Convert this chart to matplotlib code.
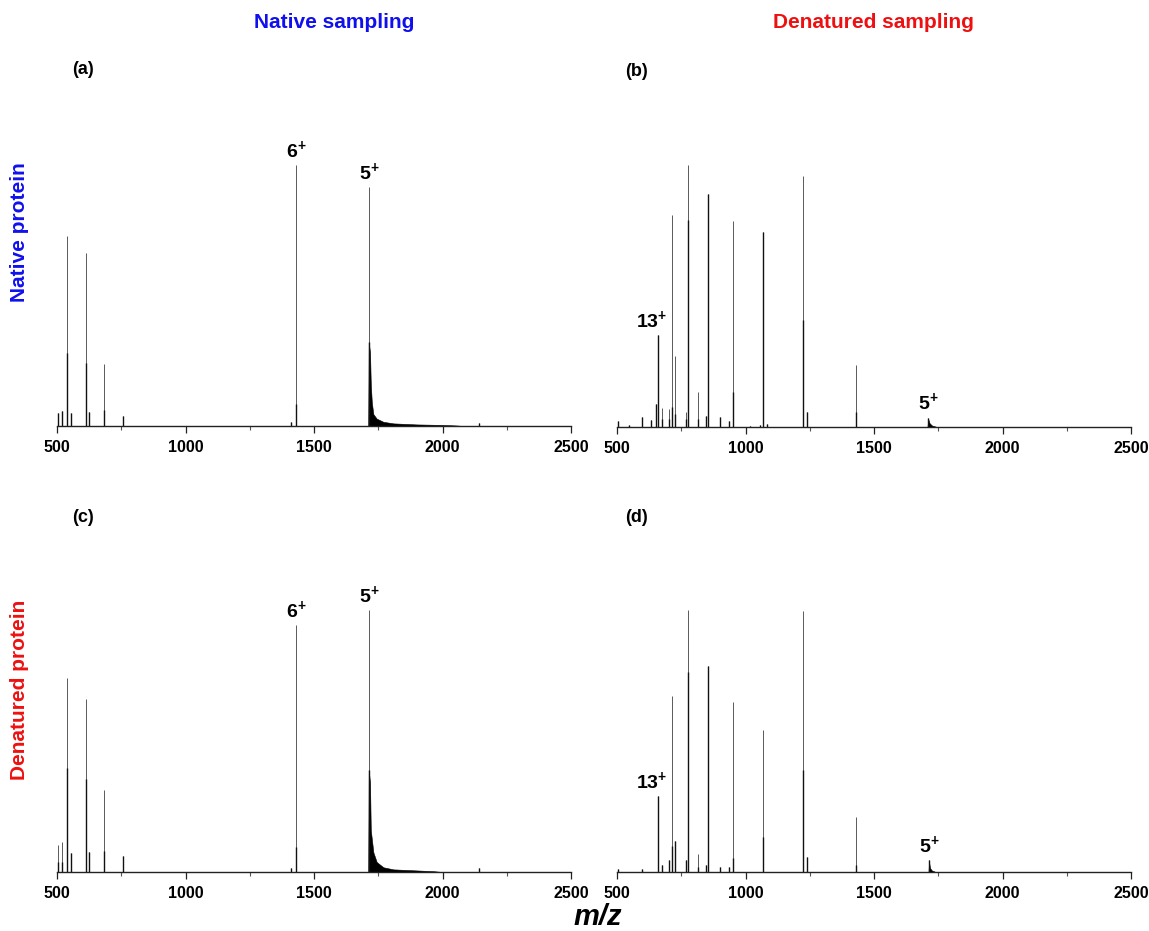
import matplotlib
matplotlib.use("Agg")
import matplotlib.pyplot as plt
from matplotlib.ticker import MultipleLocator

plt.rcParams['font.family'] = ['Liberation Sans', 'DejaVu Sans']
plt.rcParams['mathtext.fontset'] = 'custom'
plt.rcParams['mathtext.bf'] = 'Liberation Sans:bold'
plt.rcParams['mathtext.rm'] = 'Liberation Sans'

# ---- data (m/z, relative intensity %) ----
# "inner" = the dense (dark) lower part of each peak
a_mz    = [504, 519, 538, 553, 612, 624, 683, 757, 1411, 1430, 1714, 2142]
a_int   = [5.0, 5.7, 72.5, 5.0, 66.0, 5.3, 23.7, 3.8, 1.5, 99.6, 91.2, 1.0]
a_inner = [5.0, 5.7, 27.7, 5.0, 23.9, 5.3, 6.0, 3.8, 1.5, 8.4, 32.0, 1.0]
a_tail_mz = [1711, 1713, 1718, 1721, 1725, 1731, 1744, 1770, 1809, 1900, 2003, 2055, 2080]
a_tail_h  = [0, 32, 28, 16, 9.0, 4.5, 2.8, 1.6, 1.0, 0.6, 0.4, 0.2, 0]

b_mz    = [505, 546, 599, 632, 651, 658, 677, 703, 712.5, 724, 769, 776, 814, 845, 855,
           902, 934, 951, 1016, 1058, 1070, 1084, 1225, 1240, 1430, 1710]
b_int   = [2.3, 0.8, 3.8, 2.7, 8.8, 35.1, 7.3, 6.9, 80.8, 27.0, 5.7, 100, 13.2, 4.2, 88.8,
           3.8, 2.3, 78.6, 0.4, 0.8, 74.3, 1.1, 95.7, 5.7, 23.5, 3.6]
b_inner = [2.3, 0.8, 3.8, 2.7, 8.8, 35.1, 3.0, 3.0, 7.6, 5.0, 3.0, 79.0, 3.0, 4.2, 88.8,
           3.8, 2.3, 13.4, 0.4, 0.8, 74.3, 1.1, 40.8, 5.7, 5.7, 3.6]
b_tail_mz = [1708, 1711, 1716, 1725, 1745]
b_tail_h  = [0, 3.0, 1.5, 0.6, 0]

c_mz    = [504, 519, 538, 553, 612, 624, 683, 757, 1411, 1430, 1714, 2142]
c_int   = [10.2, 11.3, 74.0, 7.3, 66.0, 7.6, 31.2, 6.1, 1.5, 94.2, 100, 1.5]
c_inner = [4.0, 4.0, 39.7, 7.3, 35.5, 7.6, 8.0, 6.1, 1.5, 9.5, 38.9, 1.5]
c_tail_mz = [1711, 1713, 1718, 1721, 1731, 1744, 1770, 1809, 1900, 1966, 2000]
c_tail_h  = [0, 38.9, 34, 16, 7.5, 3.8, 1.8, 1.0, 0.6, 0.3, 0]

d_mz    = [505, 599, 658, 677, 703, 714, 724, 769, 778, 814, 845, 856, 902, 934,
           953, 1070, 1225, 1240, 1430, 1714]
d_int   = [1.1, 1.1, 28.9, 2.7, 4.6, 67.1, 11.7, 4.6, 100, 6.8, 2.7, 78.5, 1.9, 1.9,
           64.9, 54.1, 99.5, 5.7, 21.0, 4.7]
d_inner = [1.1, 1.1, 28.9, 2.7, 4.6, 9.8, 11.7, 4.6, 76.3, 2.0, 2.7, 78.5, 1.9, 1.9,
           5.3, 13.4, 38.8, 5.7, 2.5, 4.7]
d_tail_mz = [1712, 1714, 1718, 1725, 1740]
d_tail_h  = [0, 4.0, 1.5, 0.6, 0]

# charge-state labels (text, m/z of labelled peak)
a_labels = [('6', 1430), ('5', 1714)]
b_labels = [('13', 658), ('5', 1710)]
c_labels = [('6', 1430), ('5', 1714)]
d_labels = [('13', 658), ('5', 1714)]

ticks = [500, 1000, 1500, 2000, 2500]

fig = plt.figure(figsize=(11.49, 9.31), dpi=100)
W, H = 1149, 931


def draw_panel(rect, mz, inten, inner, tail_mz, tail_h, labels, letter, letter_xy):
    ax = fig.add_axes(rect)
    ax.vlines(mz, 0, inten, color='#5a5a5a', lw=0.7)
    ax.vlines(mz, 0, inner, color='#111111', lw=1.0)
    ax.fill_between(tail_mz, 0, tail_h, color='black', lw=0.4)
    ax.set_xlim(500, 2500)
    ax.set_ylim(0, 105)
    for s in ['top', 'left', 'right']:
        ax.spines[s].set_visible(False)
    ax.spines['bottom'].set_color('#222222')
    ax.spines['bottom'].set_linewidth(1.0)
    ax.set_yticks([])
    ax.set_xticks(ticks)
    ax.xaxis.set_minor_locator(MultipleLocator(250))
    ax.tick_params(axis='x', which='major', direction='out', length=5, width=0.9,
                   labelsize=11.5, pad=5, color='#222222')
    ax.tick_params(axis='x', which='minor', direction='out', length=3, width=0.8,
                   color='#555555')
    for t in ax.get_xticklabels():
        t.set_fontweight('bold')
    for txt, pos in labels:
        h = inten[mz.index(pos)]
        dx = -4 if txt == '13' else 0
        ax.annotate(r'$\mathbf{%s^{+}}$' % txt, xy=(pos, h), xytext=(dx, 3),
                    textcoords='offset points', ha='center', va='bottom', fontsize=14)
    fig.text(letter_xy[0] / W, 1 - letter_xy[1] / H, letter, fontsize=13,
             fontweight='bold', ha='center', va='center')
    return ax


ax_h = 275 / H
ax_w = 514 / W
draw_panel([57 / W, 1 - 426 / H, ax_w, ax_h], a_mz, a_int, a_inner, a_tail_mz, a_tail_h,
           a_labels, '(a)', (83, 70))
draw_panel([617 / W, 1 - 427 / H, ax_w, ax_h], b_mz, b_int, b_inner, b_tail_mz, b_tail_h,
           b_labels, '(b)', (637, 72))
draw_panel([57 / W, 1 - 872 / H, ax_w, ax_h], c_mz, c_int, c_inner, c_tail_mz, c_tail_h,
           c_labels, '(c)', (83, 518))
draw_panel([617 / W, 1 - 872 / H, ax_w, ax_h], d_mz, d_int, d_inner, d_tail_mz, d_tail_h,
           d_labels, '(d)', (637, 518))

# row / column headers
fig.text(334 / W, 1 - 22 / H, 'Native sampling', color='#1010ee', fontsize=15,
         fontweight='bold', ha='center', va='center')
fig.text(873 / W, 1 - 22 / H, 'Denatured sampling', color='#ee1010', fontsize=15,
         fontweight='bold', ha='center', va='center')
fig.text(20 / W, 1 - 232 / H, 'Native protein', color='#1010ee', fontsize=15,
         fontweight='bold', ha='center', va='center', rotation=90)
fig.text(20 / W, 1 - 690 / H, 'Denatured protein', color='#ee1010', fontsize=15,
         fontweight='bold', ha='center', va='center', rotation=90)
fig.text(598 / W, 1 - 917 / H, 'm/z', fontsize=21, fontweight='bold', style='italic',
         ha='center', va='center')

fig.savefig('out.png', dpi=100)
